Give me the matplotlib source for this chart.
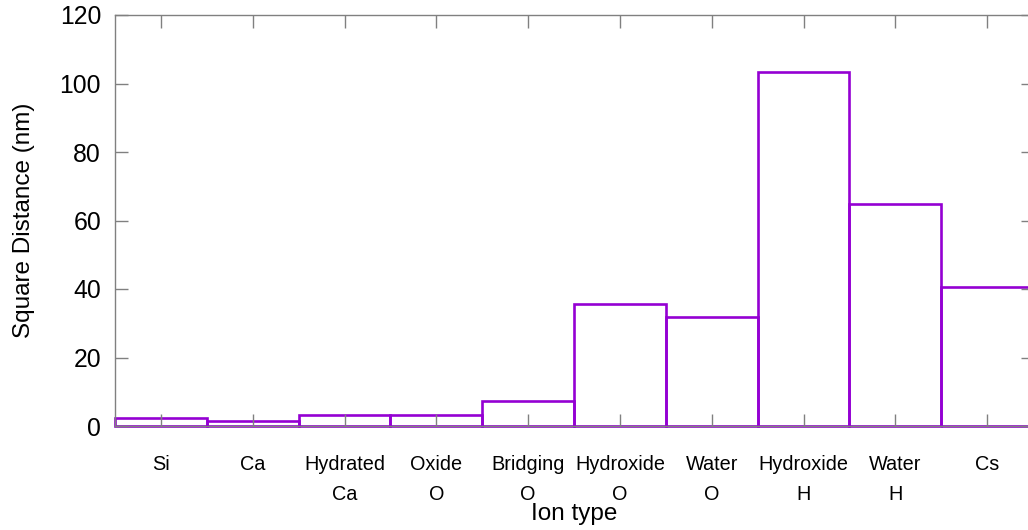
import matplotlib
matplotlib.use("Agg")
import matplotlib.pyplot as plt
import numpy as np

categories = ["Si", "Ca", "Hydrated\nCa", "Oxide\nO", "Bridging\nO",
              "Hydroxide\nO", "Water\nO", "Hydroxide\nH", "Water\nH", "Cs"]
values = [2.3, 1.6, 3.3, 3.3, 7.2, 35.6, 31.9, 103.4, 64.8, 40.6]
yticks = [0, 20, 40, 60, 80, 100, 120]

plt.rcParams['font.family'] = ['Liberation Sans', 'DejaVu Sans']

fig = plt.figure(figsize=(10.28, 5.30), dpi=100)
ax = fig.add_axes([115/1028, 1-426/530, 918/1028, 411/530])

x = np.arange(len(categories))
ax.bar(x, values, width=1.0, fill=False, edgecolor='#9400D3', linewidth=1.9, clip_on=False)

ax.set_xlim(-0.5, 9.5)
ax.set_ylim(0, 120)
ax.set_yticks(yticks)
ax.set_xticks(x)
ax.set_xticklabels(categories, fontsize=14.3, linespacing=1.75)
ax.tick_params(axis='y', labelsize=17.8, direction='in', length=9, width=1,
               color='#808080', right=True, pad=10)
ax.tick_params(axis='x', direction='in', length=9, width=1, color='#808080',
               top=True, pad=21)
for s in ax.spines.values():
    s.set_color('#808080')
    s.set_linewidth(1)

ax.set_ylabel("Square Distance (nm)", fontsize=17.5, labelpad=18)
ax.set_xlabel("Ion type", fontsize=17.5, labelpad=-1)

fig.savefig("out.png", dpi=100)
